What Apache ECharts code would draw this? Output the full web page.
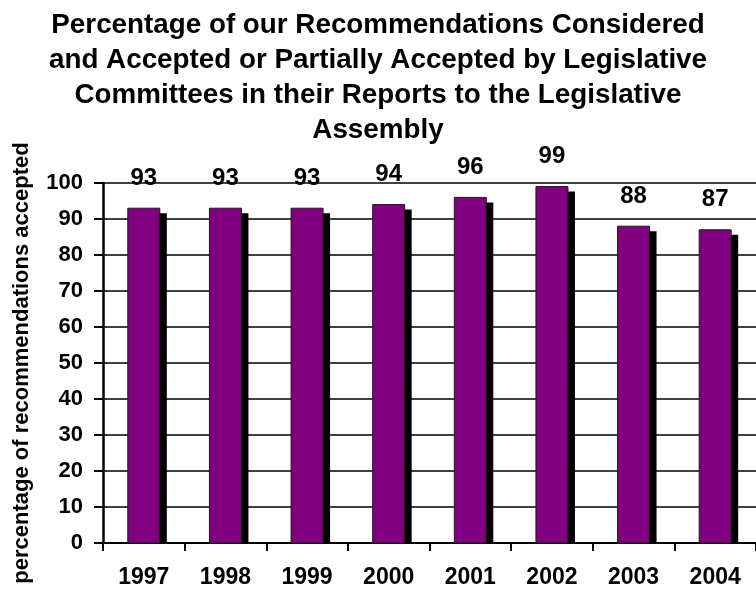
<!DOCTYPE html>
<html>
<head>
<meta charset="utf-8">
<script src="https://cdn.jsdelivr.net/npm/echarts@6/dist/echarts.min.js"></script>
<style>
  html, body { margin: 0; padding: 0; background: #fff; }
  #chart { width: 756px; height: 590px; }
</style>
</head>
<body>
<div id="chart"></div>
<script>
// Share of recommendations considered and accepted, by year
const years = ['1997', '1998', '1999', '2000', '2001', '2002', '2003', '2004'];
const acceptedPct = [93, 93, 93, 94, 96, 99, 88, 87];
const yTicks = [0, 10, 20, 30, 40, 50, 60, 70, 80, 90, 100];

const FONT = '"Liberation Sans", Arial, Helvetica, sans-serif';
const BAR_W = 32;
const SHADOW_DX = 7;
const SHADOW_DY = 5;

const chart = echarts.init(document.getElementById('chart'), null, { renderer: 'canvas' });

chart.setOption({
  animation: false,
  backgroundColor: '#fff',
  title: {
    text: 'Percentage of our Recommendations Considered\nand Accepted or Partially Accepted by Legislative\nCommittees in their Reports to the Legislative\nAssembly',
    left: 'center',
    top: 3,
    textStyle: {
      fontFamily: FONT,
      fontSize: 27.8,
      fontWeight: 'bold',
      color: '#000',
      lineHeight: 35
    }
  },
  grid: {
    left: 103,
    right: -3,
    top: 183,
    bottom: 47,
    containLabel: false
  },
  xAxis: {
    type: 'category',
    data: years,
    axisLine: { show: true, lineStyle: { color: '#000', width: 2 } },
    axisTick: { show: true, length: 8, lineStyle: { color: '#000', width: 2 } },
    axisLabel: {
      margin: 23,
      fontFamily: FONT,
      fontSize: 23,
      fontWeight: 'bold',
      color: '#000'
    },
    splitLine: { show: false }
  },
  yAxis: {
    type: 'value',
    min: yTicks[0],
    max: yTicks[yTicks.length - 1],
    interval: 10,
    name: 'percentage of recommendations accepted',
    nameLocation: 'middle',
    nameRotate: 90,
    nameGap: 70,
    nameTextStyle: {
      fontFamily: FONT,
      fontSize: 22,
      fontWeight: 'bold',
      color: '#000'
    },
    axisLine: { show: true, lineStyle: { color: '#000', width: 2.5 } },
    axisTick: { show: true, length: 9, lineStyle: { color: '#000', width: 2 } },
    axisLabel: {
      margin: 20,
      fontFamily: FONT,
      fontSize: 22,
      fontWeight: 'bold',
      color: '#000'
    },
    splitLine: { show: true, lineStyle: { color: '#000', width: 1.5 } }
  },
  series: [{
    type: 'custom',
    data: years.map((y, i) => [i, acceptedPct[i]]),
    encode: { x: 0, y: 1 },
    clip: false,
    renderItem: function (params, api) {
      const v = api.value(1);
      const top = api.coord([api.value(0), v]);
      const base = api.coord([api.value(0), 0]);
      const x0 = top[0] - BAR_W / 2;
      return {
        type: 'group',
        children: [
          {
            type: 'rect',
            shape: { x: x0 + SHADOW_DX, y: top[1] + SHADOW_DY, width: BAR_W, height: base[1] - top[1] - SHADOW_DY },
            style: { fill: '#000' }
          },
          {
            type: 'rect',
            shape: { x: x0, y: top[1], width: BAR_W, height: base[1] - top[1] },
            style: { fill: '#800080', stroke: '#1a1a1a', lineWidth: 1 }
          },
          {
            type: 'text',
            style: {
              text: String(v),
              x: top[0],
              y: top[1] - 30,
              align: 'center',
              verticalAlign: 'middle',
              font: 'bold 24px ' + FONT,
              fill: '#000'
            }
          }
        ]
      };
    }
  }]
});
</script>
</body>
</html>
